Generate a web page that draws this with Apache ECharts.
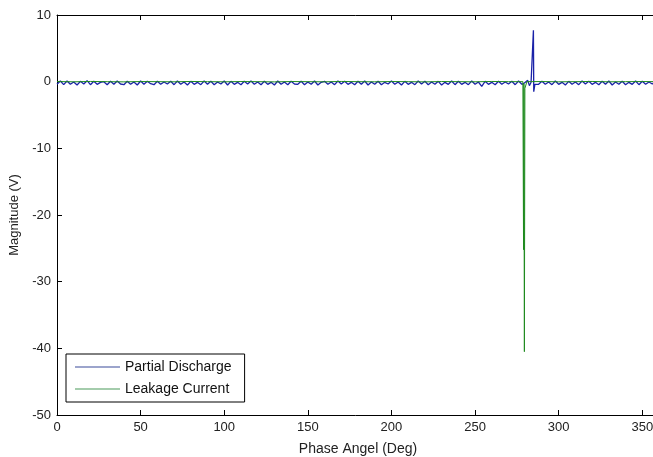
<!DOCTYPE html>
<html>
<head>
<meta charset="utf-8">
<script src="https://cdn.jsdelivr.net/npm/echarts@6/dist/echarts.min.js"></script>
<style>
html,body{margin:0;padding:0;background:#fff;}
#chart{width:653px;height:457px;}
</style>
</head>
<body>
<div id="chart"></div>
<script>
// Tick labels
const xTicks = [0, 50, 100, 150, 200, 250, 300, 350];
const yTicks = [10, 0, -10, -20, -30, -40, -50];

// Partial Discharge (blue)
const pdAngle = [
  0,2,4,6,8,10,12,14,16,18,20,22,24,26,28,30,32,34,36,38,
  40,42,44,46,48,50,52,54,56,58,60,62,64,66,68,70,72,74,76,78,
  80,82,84,86,88,90,92,94,96,98,100,102,104,106,108,110,112,114,116,118,
  120,122,124,126,128,130,132,134,136,138,140,142,144,146,148,150,152,154,156,158,
  160,162,164,166,168,170,172,174,176,178,180,182,184,186,188,190,192,194,196,198,
  200,202,204,206,208,210,212,214,216,218,220,222,224,226,228,230,232,234,236,238,
  240,242,244,246,248,250,252,254,256,258,260,262,264,266,268,270,272,274,276,278,
  279.5,280.5,281.5,282.5,283.5,284.6,284.9,285.1,285.4,285.8,286.5,288,
  290,292,294,296,298,300,302,304,306,308,310,312,314,316,318,320,322,324,326,328,
  330,332,334,336,338,340,342,344,346,348,350,352,354,356,358,360
];
const pdValue = [
  -0.4,0.1,-0.45,0.1,-0.4,-0.05,-0.5,0.05,-0.35,0.15,-0.45,0.05,-0.4,-0.1,0.0,-0.45,0.05,-0.4,0.1,-0.35,
  -0.45,0.05,-0.4,-0.05,-0.5,0.1,-0.4,0.05,-0.3,-0.45,0.05,-0.4,-0.05,-0.35,0.05,-0.45,0.1,-0.4,-0.05,-0.5,
  0.05,-0.4,-0.1,-0.45,0.1,-0.4,0.05,-0.45,-0.05,-0.35,0.1,-0.5,0.05,-0.4,-0.1,-0.45,0.05,-0.35,0.1,-0.4,
  -0.05,-0.45,0.05,-0.4,-0.1,-0.5,0.1,-0.4,-0.05,-0.45,0.05,-0.35,-0.4,0.05,-0.45,-0.05,-0.4,0.1,-0.5,-0.1,
  0.05,-0.4,-0.05,-0.45,0.1,-0.35,0.05,-0.4,-0.1,-0.45,0.05,-0.4,0.1,-0.5,-0.05,-0.4,0.05,-0.45,-0.1,-0.35,
  0.1,-0.4,-0.05,-0.5,0.05,-0.4,-0.1,-0.45,0.1,-0.35,0.05,-0.45,-0.05,-0.4,0.05,-0.5,-0.1,-0.4,0.1,-0.45,
  0.05,-0.4,-0.1,-0.45,0.1,-0.4,-0.05,-0.7,0.05,-0.4,-0.1,-0.45,0.05,-0.4,-0.05,-0.35,0.05,-0.45,0.1,-0.4,
  -0.2,-0.5,0.2,-0.6,-0.1,-0.3,7.7,-1.5,-1.0,-0.4,-0.2,-0.4,
  0.05,-0.4,-0.05,-0.45,0.1,-0.4,-0.1,-0.5,0.05,-0.4,-0.05,-0.45,0.1,-0.35,0.05,-0.4,-0.1,-0.45,0.05,-0.4,
  0.1,-0.5,-0.05,-0.4,0.05,-0.45,-0.1,-0.4,0.1,-0.45,0.05,-0.4,-0.05,-0.35,0.05,-0.4
];

// Leakage Current (green)
const lcAngle = [
  0,10,20,30,40,50,60,70,80,90,100,110,120,130,140,150,160,170,180,190,
  200,210,220,230,240,250,260,270,278.6,279.0,279.2,279.5,279.8,280.2,281,
  290,300,310,320,330,340,350,360
];
const lcValue = [
  0.02,-0.02,0.03,0,-0.03,0.02,0,-0.02,0.03,0,-0.02,0.02,0,-0.03,0.02,0,-0.02,0.03,0,-0.02,
  0.02,0,-0.03,0.02,0,-0.02,0.03,0,0,-25.2,-0.3,-40.5,-1.0,-0.8,0,
  0.02,-0.02,0,0.03,-0.02,0,0.02,0
];

const pdData = pdAngle.map((a, i) => [a, pdValue[i]]);
const lcData = lcAngle.map((a, i) => [a, lcValue[i]]);

const FONT = '"Liberation Sans", Arial, sans-serif';
const chart = echarts.init(document.getElementById('chart'), null, {renderer: 'canvas'});
chart.setOption({
  animation: false,
  backgroundColor: '#ffffff',
  grid: {left: 57, top: 15, right: -6, bottom: 42, containLabel: false, outerBoundsMode: 'none'},
  xAxis: [{
    type: 'value', min: 0, max: 360, interval: 50,
    name: 'Phase Angel (Deg)', nameLocation: 'middle', nameGap: 27,
    nameTextStyle: {fontFamily: FONT, fontSize: 14, color: '#222'},
    axisLine: {show: true, onZero: false, lineStyle: {color: '#000', width: 1}},
    axisTick: {show: true, inside: true, length: 5, lineStyle: {color: '#000'}},
    axisLabel: {fontFamily: FONT, fontSize: 13, color: '#222', margin: 6,
      formatter: v => xTicks.indexOf(v) >= 0 ? String(v) : ''},
    splitLine: {show: false}
  }, {
    type: 'value', min: 0, max: 360, interval: 50, position: 'top',
    axisLine: {show: true, onZero: false, lineStyle: {color: '#000', width: 1}},
    axisTick: {show: true, inside: true, length: 5, lineStyle: {color: '#000'}},
    axisLabel: {show: false},
    splitLine: {show: false}
  }],
  yAxis: [{
    type: 'value', min: -50, max: 10, interval: 10,
    name: 'Magnitude (V)', nameLocation: 'middle', nameGap: 31, nameRotate: 90,
    nameTextStyle: {fontFamily: FONT, fontSize: 13, color: '#222'},
    axisLine: {show: true, onZero: false, lineStyle: {color: '#000', width: 1}},
    axisTick: {show: true, inside: true, length: 5, lineStyle: {color: '#000'}},
    axisLabel: {fontFamily: FONT, fontSize: 13, color: '#222', margin: 6,
      formatter: v => yTicks.indexOf(v) >= 0 ? String(v) : ''},
    splitLine: {show: false}
  }],
  legend: {
    orient: 'vertical', left: 66, top: 354,
    padding: [6, 13, 6, 9], itemGap: 8, itemWidth: 45, itemHeight: 1,
    icon: 'rect',
    backgroundColor: '#fff', borderColor: '#000', borderWidth: 1,
    textStyle: {fontFamily: FONT, fontSize: 14, lineHeight: 14, color: '#111'},
    data: ['Partial Discharge', 'Leakage Current']
  },
  series: [{
    name: 'Partial Discharge', type: 'line', data: pdData,
    xAxisIndex: 0, yAxisIndex: 0,
    showSymbol: false, symbol: 'none',
    color: '#1a22a8',
    itemStyle: {color: '#3a4a9a'},
    lineStyle: {width: 1.3, color: '#1a22a8'}
  }, {
    name: 'Leakage Current', type: 'line', data: lcData,
    xAxisIndex: 0, yAxisIndex: 0,
    showSymbol: false, symbol: 'none',
    color: '#1f8a1f',
    itemStyle: {color: '#4a9a5a'},
    lineStyle: {width: 1, color: '#1f8a1f'}
  }]
});
</script>
</body>
</html>
